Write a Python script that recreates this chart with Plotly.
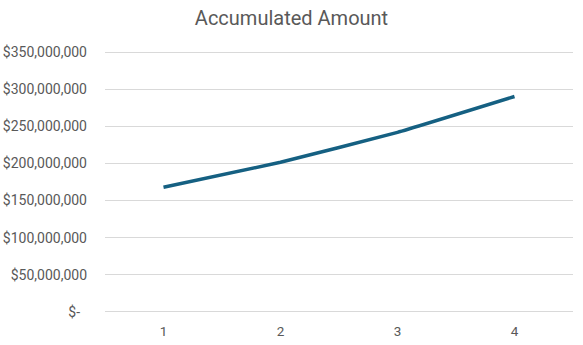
import plotly.graph_objects as go

periods = [1, 2, 3, 4]
amounts = [168_000_000, 201_600_000, 241_900_000, 290_300_000]
tick_vals = [0, 50_000_000, 100_000_000, 150_000_000, 200_000_000, 250_000_000, 300_000_000, 350_000_000]
tick_text = ["$-\u00a0\u00a0", "$50,000,000", "$100,000,000", "$150,000,000", "$200,000,000",
             "$250,000,000", "$300,000,000", "$350,000,000"]

font_family = "Roboto, 'Liberation Sans', sans-serif"
gray = "#595959"

fig = go.Figure()
fig.add_trace(go.Scatter(x=periods, y=amounts, mode="lines",
                         line=dict(color="#156082", width=3.5, shape="spline", smoothing=0.3)))

fig.update_layout(
    width=583, height=345,
    margin=dict(l=105, r=10, t=50, b=31),
    paper_bgcolor="white", plot_bgcolor="white",
    showlegend=False,
    title=dict(text="Accumulated Amount", x=0.5, xanchor="center", y=0.948, yanchor="middle",
               font=dict(family=font_family, size=20, color=gray)),
    font=dict(family=font_family, size=14, color=gray),
    xaxis=dict(range=[0.5, 4.5], tickvals=periods, ticktext=[str(p) for p in periods],
               showgrid=False, zeroline=False, showline=False, ticks="", ticklabelstandoff=7,
               automargin=False, tickfont=dict(size=13.5, color=gray)),
    yaxis=dict(range=[-3_000_000, 353_000_000], tickvals=tick_vals, ticktext=tick_text,
               showgrid=True, gridcolor="#D9D9D9", gridwidth=1, zeroline=False, showline=False,
               automargin=False, ticks="", ticklabelstandoff=17, tickfont=dict(size=14, color=gray)),
)

fig.write_html("out.html")
